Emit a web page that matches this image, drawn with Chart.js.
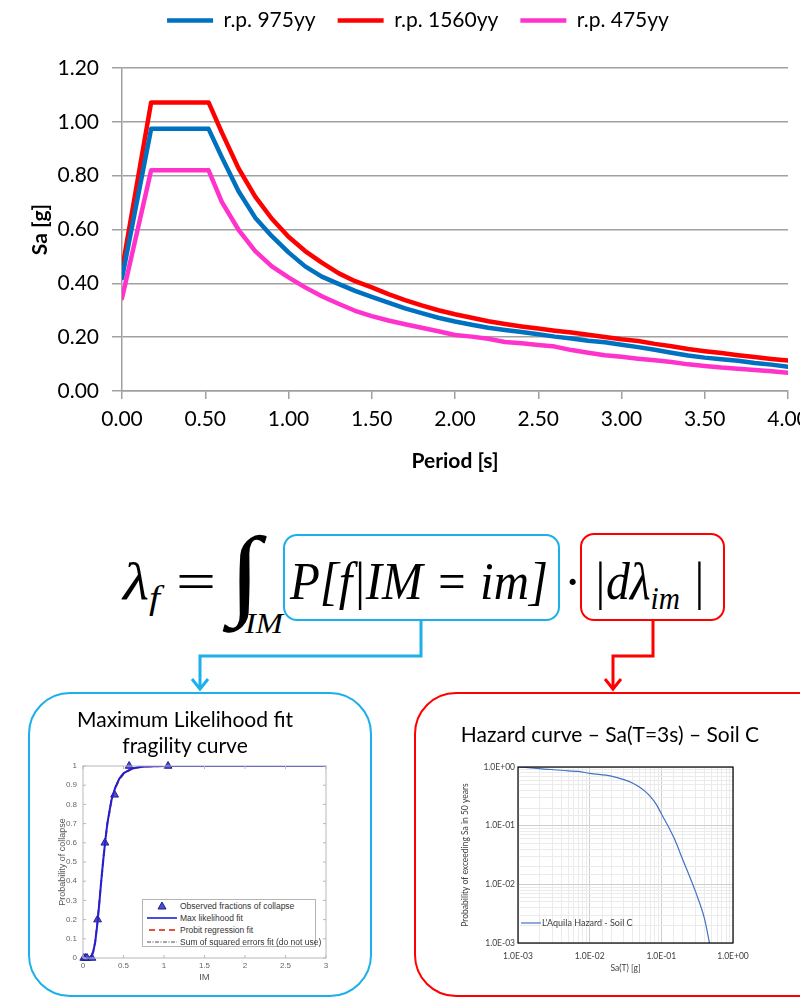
<!DOCTYPE html>
<html>
<head>
<meta charset="utf-8">
<title>Spectra and risk integral</title>
<script src="https://cdn.jsdelivr.net/npm/chart.js@4.4.1/dist/chart.umd.min.js"></script>
<style>
  html, body { margin: 0; padding: 0; background: #fff; }
  #page { position: relative; width: 800px; height: 1000px; overflow: hidden; font-family: Lato, "Noto Sans", sans-serif; }
  .abs { position: absolute; }
  .math { position: absolute; font-family: "Liberation Serif", "DejaVu Serif", serif; font-style: italic; line-height: 1; white-space: nowrap; color: #000; transform-origin: 0 0; }
  .box { position: absolute; box-sizing: border-box; }
  .title { position: absolute; font-size: 21px; line-height: 26px; text-align: center; color: #000; white-space: nowrap; }
  .lg-row { position: absolute; left: 0; height: 12px; font-family: "Liberation Sans", Arial, sans-serif; font-size: 8.5px; color: #333; white-space: nowrap; }
</style>
</head>
<body>
<div id="page">
  <canvas id="spectra" class="abs" width="800" height="490" style="left:0;top:0"></canvas>

  <!-- risk integral -->
  <span class="math" id="m-lam" style="left:123px;top:556px;font-size:52px">λ<span style="font-size:34px;vertical-align:-10px">f</span></span>
  <span class="math" id="m-eq" style="left:176px;top:556px;font-size:52px;font-style:normal">=</span>
  <span class="math" id="m-int" style="left:229px;top:523px;font-size:100px;font-style:normal">∫</span>
  <span class="math" id="m-im" style="left:245px;top:608px;font-size:30px">IM</span>
  <div class="box" style="left:283px;top:534px;width:277px;height:87px;border:2px solid #1CB0EB;border-radius:14px"></div>
  <span class="math" id="m-p" style="left:290px;top:556px;font-size:52px">P[f|IM = im]</span>
  <span class="math" id="m-dot" style="left:564px;top:556px;font-size:52px;font-style:normal">·</span>
  <div class="box" style="left:580px;top:533px;width:145px;height:88px;border:2px solid #FF0000;border-radius:14px"></div>
  <span class="math" id="m-dl" style="left:593px;top:556px;font-size:52px">|dλ<span style="font-size:32px;vertical-align:-10px">im</span> |</span>

  <svg class="abs" width="800" height="1000" style="left:0;top:0;pointer-events:none">
    <polyline points="421,621 421,656 200,656 200,688" fill="none" stroke="#1CB0EB" stroke-width="3"/>
    <polyline points="192,679 200,689 208,679" fill="none" stroke="#1CB0EB" stroke-width="3"/>
    <polyline points="653,621 653,656 613,656 613,688" fill="none" stroke="#FF0000" stroke-width="3"/>
    <polyline points="605,679 613,689 621,679" fill="none" stroke="#FF0000" stroke-width="3"/>
  </svg>

  <!-- fragility panel -->
  <div class="box" style="left:28px;top:692px;width:344px;height:305px;border:2.5px solid #1CB0EB;border-radius:42px"></div>
  <div class="title" style="left:45px;top:706px;width:280px">Maximum Likelihood fit<br>fragility curve</div>
  <canvas id="fragility" class="abs" width="285" height="235" style="left:50px;top:755px"></canvas>
  <div class="abs" style="left:142px;top:899px;width:174px;height:48px;box-sizing:border-box;border:1px solid #b4b4b4;background:#fff">
    <div class="lg-row" style="top:0px">
      <svg class="abs" width="30" height="12" style="left:4px;top:0"><polygon points="15,2 19,9 11,9" fill="#5050c8" stroke="#1c1c9c" stroke-width="1"/></svg>
      <span class="abs" style="left:37px;top:0;line-height:12px">Observed fractions of collapse</span>
    </div>
    <div class="lg-row" style="top:12px">
      <svg class="abs" width="30" height="12" style="left:4px;top:0"><line x1="0" y1="6" x2="30" y2="6" stroke="#1f1fd6" stroke-width="1.6"/></svg>
      <span class="abs" style="left:37px;top:0;line-height:12px">Max likelihood fit</span>
    </div>
    <div class="lg-row" style="top:24px">
      <svg class="abs" width="30" height="12" style="left:4px;top:0"><line x1="2" y1="6" x2="30" y2="6" stroke="#e8503c" stroke-width="2" stroke-dasharray="6 4"/></svg>
      <span class="abs" style="left:37px;top:0;line-height:12px">Probit regression fit</span>
    </div>
    <div class="lg-row" style="top:36px">
      <svg class="abs" width="30" height="12" style="left:4px;top:0"><line x1="0" y1="6" x2="30" y2="6" stroke="#222" stroke-width="0.8" stroke-dasharray="4 1.5 1 1.5"/></svg>
      <span class="abs" style="left:37px;top:0;line-height:12px">Sum of squared errors fit (do not use)</span>
    </div>
  </div>

  <!-- hazard panel -->
  <div class="box" style="left:414px;top:692px;width:430px;height:305px;border:2.5px solid #FF0000;border-radius:42px"></div>
  <div class="title" style="left:430px;top:721px;width:360px">Hazard curve – Sa(T=3s) – Soil C</div>
  <canvas id="hazard" class="abs" width="310" height="225" style="left:455px;top:755px"></canvas>
  <div class="abs" style="left:521px;top:917px;width:160px;height:12px">
    <svg class="abs" width="20" height="12" style="left:0;top:0"><line x1="0" y1="6" x2="20" y2="6" stroke="#4472C4" stroke-width="1.2"/></svg>
    <span class="abs" style="left:21px;top:0;line-height:12px;font-size:9px;color:#404040">L'Aquila Hazard - Soil C</span>
  </div>
</div>

<script>
// ---------- uniform hazard spectra ----------
const periods = [0, 0.175, 0.52, 0.6, 0.7, 0.8, 0.9, 1.0, 1.1, 1.2, 1.3, 1.4, 1.5, 1.6, 1.7, 1.8, 1.9,
  2.0, 2.1, 2.2, 2.3, 2.4, 2.5, 2.6, 2.7, 2.8, 2.9, 3.0, 3.1, 3.2, 3.3, 3.4, 3.5, 3.6, 3.7, 3.8, 3.9, 4.0];
const sa975 = [0.42, 0.974, 0.974, 0.868, 0.742, 0.644, 0.575, 0.515, 0.463, 0.425, 0.398, 0.372, 0.350,
  0.328, 0.307, 0.289, 0.272, 0.258, 0.246, 0.235, 0.227, 0.219, 0.211, 0.202, 0.195, 0.187, 0.181,
  0.172, 0.163, 0.153, 0.142, 0.132, 0.124, 0.118, 0.112, 0.104, 0.098, 0.090];
const sa1560 = [0.45, 1.072, 1.072, 0.96, 0.827, 0.722, 0.64, 0.573, 0.52, 0.477, 0.438, 0.408, 0.385,
  0.36, 0.338, 0.318, 0.300, 0.285, 0.272, 0.259, 0.249, 0.240, 0.232, 0.224, 0.217, 0.209, 0.201,
  0.192, 0.186, 0.175, 0.166, 0.156, 0.148, 0.141, 0.133, 0.126, 0.119, 0.113];
const sa475 = [0.345, 0.82, 0.82, 0.702, 0.599, 0.52, 0.463, 0.422, 0.385, 0.352, 0.324, 0.298, 0.278,
  0.262, 0.248, 0.235, 0.222, 0.208, 0.202, 0.194, 0.182, 0.177, 0.171, 0.165, 0.152, 0.142, 0.133,
  0.127, 0.120, 0.114, 0.108, 0.099, 0.093, 0.087, 0.083, 0.078, 0.073, 0.068];
const spectraNames = ["r.p. 975yy", "r.p. 1560yy", "r.p. 475yy"];
const spectraColors = ["#0070C0", "#FF0000", "#FF33CC"];

// ---------- fragility curve ----------
const imObs = [0.01, 0.03, 0.05, 0.11, 0.18, 0.27, 0.39, 0.57, 1.05];
const collapseObs = [0, 0, 0, 0, 0.2, 0.6, 0.85, 1, 1];
const imFit = [0, 0.05, 0.1, 0.125, 0.15, 0.175, 0.2, 0.225, 0.25, 0.275, 0.3, 0.35, 0.4, 0.45, 0.5,
  0.6, 0.7, 0.8, 1.0, 1.5, 2.0, 2.5, 3.0];
const pMaxLik = [0, 0, 0.005, 0.03, 0.08, 0.17, 0.28, 0.40, 0.51, 0.61, 0.70, 0.82, 0.89, 0.935, 0.962,
  0.986, 0.995, 0.998, 1, 1, 1, 1, 1];
const pProbit = [0, 0, 0.006, 0.032, 0.085, 0.175, 0.285, 0.40, 0.51, 0.61, 0.695, 0.815, 0.885, 0.93, 0.958,
  0.984, 0.994, 0.998, 1, 1, 1, 1, 1];
const pSse = [0, 0, 0.004, 0.028, 0.078, 0.168, 0.28, 0.40, 0.515, 0.615, 0.705, 0.825, 0.895, 0.94, 0.965,
  0.988, 0.996, 0.999, 1, 1, 1, 1, 1];

// ---------- hazard curve ----------
const saHazard = [0.001, 0.002, 0.005, 0.007, 0.01, 0.02, 0.03, 0.04, 0.05, 0.06, 0.07, 0.085, 0.1, 0.15, 0.2, 0.3, 0.4, 0.47];
const pExceed = [1.0, 0.94, 0.86, 0.84, 0.78, 0.70, 0.61, 0.53, 0.45, 0.38, 0.315, 0.23, 0.16, 0.062, 0.026, 0.0075, 0.0026, 0.001];

function toXY(xs, ys) {
  return xs.map((x, i) => ({ x: x, y: ys[i] }));
}

// squeeze formula pieces to the widths
function fitWidth(id, target) {
  const el = document.getElementById(id);
  const w = el.getBoundingClientRect().width;
  el.style.transform = "scaleX(" + (target / w).toFixed(3) + ")";
}
fitWidth("m-lam", 37);
fitWidth("m-eq", 40);
fitWidth("m-int", 32);
fitWidth("m-im", 38);
fitWidth("m-p", 258);
fitWidth("m-dl", 112);

// Move legend up and a bit right (original was centred on a wider chart)
const legendShift = {
  id: "legendShift",
  afterLayout(chart) {
    chart.legend.left += 36;
    chart.legend.top -= 27;
  },
};

const gridGray = "#A0A0A0";

new Chart(document.getElementById("spectra").getContext("2d"), {
  type: "line",
  data: {
    datasets: [sa975, sa1560, sa475].map((vals, i) => ({
      label: spectraNames[i],
      data: toXY(periods, vals),
      borderColor: spectraColors[i],
      backgroundColor: spectraColors[i],
      borderWidth: 4.5,
      borderCapStyle: "round",
      borderJoinStyle: "round",
      pointRadius: 0,
      tension: 0,
    })),
  },
  options: {
    responsive: false,
    animation: false,
    layout: { padding: { top: 15, left: 0, right: 0, bottom: 0 } },
    plugins: {
      legend: {
        position: "top",
        labels: {
          usePointStyle: true,
          pointStyle: "line",
          pointStyleWidth: 46,
          padding: 22,
          color: "#000",
          font: { family: "Lato", size: 21 },
        },
      },
      tooltip: { enabled: false },
    },
    scales: {
      x: {
        type: "linear",
        min: 0,
        max: 4,
        afterFit: (s) => { s.height = 99; s.paddingRight = 12; },
        ticks: {
          stepSize: 0.5,
          padding: 8,
          color: "#000",
          font: { family: "Lato", size: 21 },
          callback: (v) => v.toFixed(2),
        },
        grid: { drawOnChartArea: false, drawTicks: true, tickLength: 8, color: gridGray, lineWidth: 1.5 },
        border: { color: gridGray, width: 1.5 },
        title: {
          display: true,
          text: "Period [s]",
          color: "#000",
          font: { family: "Lato", size: 21, weight: "bold" },
          padding: { top: 4, bottom: 16 },
        },
      },
      y: {
        min: 0,
        max: 1.2,
        afterFit: (s) => { s.width = 122; },
        ticks: {
          stepSize: 0.2,
          padding: 13,
          color: "#000",
          font: { family: "Lato", size: 21 },
          callback: (v) => v.toFixed(2),
        },
        grid: { color: gridGray, lineWidth: 1.5, tickLength: 10 },
        border: { color: gridGray, width: 1.5 },
        title: {
          display: true,
          text: "Sa [g]",
          color: "#000",
          font: { family: "Lato", size: 21, weight: "bold" },
          padding: { top: 28, bottom: 0 },
        },
      },
    },
  },
  plugins: [legendShift],
});

// MATLAB-like box with inward ticks
const matlabFrame = {
  id: "matlabFrame",
  afterDraw(chart) {
    const { ctx, chartArea: a, scales } = chart;
    ctx.save();
    ctx.strokeStyle = "#b8b8b8";
    ctx.lineWidth = 1;
    ctx.strokeRect(a.left, a.top, a.width, a.height);
    ctx.beginPath();
    scales.x.ticks.forEach((t) => {
      const px = scales.x.getPixelForValue(t.value);
      ctx.moveTo(px, a.bottom); ctx.lineTo(px, a.bottom - 3);
      ctx.moveTo(px, a.top); ctx.lineTo(px, a.top + 3);
    });
    scales.y.ticks.forEach((t) => {
      const py = scales.y.getPixelForValue(t.value);
      ctx.moveTo(a.left, py); ctx.lineTo(a.left + 3, py);
      ctx.moveTo(a.right, py); ctx.lineTo(a.right - 3, py);
    });
    ctx.stroke();
    ctx.restore();
  },
};

const smallGray = { family: "Liberation Sans", size: 8 };

new Chart(document.getElementById("fragility").getContext("2d"), {
  type: "scatter",
  data: {
    datasets: [
      {
        label: "Max likelihood fit",
        data: toXY(imFit, pMaxLik),
        showLine: true,
        borderColor: "#1f1fd6",
        borderWidth: 2,
        pointRadius: 0,
      },
      {
        label: "Probit regression fit",
        data: toXY(imFit, pProbit),
        showLine: true,
        borderColor: "#e8503c",
        borderWidth: 2,
        borderDash: [6, 4],
        pointRadius: 0,
      },
      {
        label: "Sum of squared errors fit (do not use)",
        data: toXY(imFit, pSse),
        showLine: true,
        borderColor: "#222",
        borderWidth: 0.7,
        borderDash: [4, 1.5, 1, 1.5],
        pointRadius: 0,
      },
      {
        label: "Observed fractions of collapse",
        data: toXY(imObs, collapseObs),
        pointStyle: "triangle",
        pointRadius: 4.5,
        backgroundColor: "#5050c8",
        borderColor: "#1c1c9c",
        borderWidth: 1,
        clip: false,
      },
    ],
  },
  options: {
    responsive: false,
    animation: false,
    layout: { padding: { top: 11, right: 9, left: 0, bottom: 0 } },
    plugins: { legend: { display: false }, tooltip: { enabled: false } },
    scales: {
      x: {
        min: 0,
        max: 3,
        afterFit: (s) => { s.height = 32; },
        ticks: { stepSize: 0.5, padding: 3, color: "#666", font: smallGray, callback: (v) => String(v) },
        grid: { display: false, drawTicks: false },
        border: { display: false },
        title: { display: true, text: "IM", color: "#555", font: { family: "Liberation Sans", size: 9.5 }, padding: { top: 0, bottom: 7 } },
      },
      y: {
        min: 0,
        max: 1,
        afterFit: (s) => { s.width = 33; },
        ticks: { stepSize: 0.1, padding: 6, color: "#666", font: smallGray, callback: (v) => String(Math.round(v * 10) / 10) },
        grid: { display: false, drawTicks: false },
        border: { display: false },
        title: { display: true, text: "Probability of collapse", color: "#555", font: { family: "Liberation Sans", size: 9 }, padding: { top: 7, bottom: 0 } },
      },
    },
  },
  plugins: [matlabFrame],
});

// Excel-like black frame
const blackFrame = {
  id: "blackFrame",
  afterDraw(chart) {
    const { ctx, chartArea: a } = chart;
    ctx.save();
    ctx.strokeStyle = "#000";
    ctx.lineWidth = 1.2;
    ctx.strokeRect(a.left, a.top, a.width, a.height);
    ctx.restore();
  },
};

function isDecade(v) {
  const l = Math.log10(v);
  return Math.abs(l - Math.round(l)) < 1e-9;
}
function sciLabel(v) {
  if (!isDecade(v)) return "";
  const e = Math.round(Math.log10(v));
  return "1.0E" + (e < 0 ? "-" : "+") + String(Math.abs(e)).padStart(2, "0");
}
const hazFont = { family: "Lato", size: 8.5 };
const logGrid = {
  color: (c) => (c.tick && isDecade(c.tick.value) ? "#cfcfcf" : "#ebebeb"),
  lineWidth: 1,
  drawTicks: false,
};

new Chart(document.getElementById("hazard").getContext("2d"), {
  type: "scatter",
  data: {
    datasets: [
      {
        label: "L'Aquila Hazard - Soil C",
        data: toXY(saHazard, pExceed),
        showLine: true,
        borderColor: "#4472C4",
        borderWidth: 1.2,
        cubicInterpolationMode: "monotone",
        pointRadius: 0,
      },
    ],
  },
  options: {
    responsive: false,
    animation: false,
    layout: { padding: { top: 12, right: 32, left: 0, bottom: 0 } },
    plugins: { legend: { display: false }, tooltip: { enabled: false } },
    scales: {
      x: {
        type: "logarithmic",
        min: 0.001,
        max: 1,
        afterFit: (s) => { s.height = 37; s.paddingRight = 0; },
        ticks: { autoSkip: false, maxRotation: 0, padding: 8, color: "#404040", font: hazFont, callback: sciLabel },
        grid: logGrid,
        border: { display: false },
        title: { display: true, text: "Sa(T) [g]", color: "#404040", font: hazFont, padding: { top: 0, bottom: 7 } },
      },
      y: {
        type: "logarithmic",
        min: 0.001,
        max: 1,
        afterFit: (s) => { s.width = 63; },
        ticks: { autoSkip: false, padding: 3, color: "#404040", font: hazFont, callback: sciLabel },
        grid: logGrid,
        border: { display: false },
        title: { display: true, text: "Probability of exceeding Sa in 50 years", color: "#404040", font: hazFont, padding: { top: 5, bottom: 0 } },
      },
    },
  },
  plugins: [blackFrame],
});
</script>
</body>
</html>
